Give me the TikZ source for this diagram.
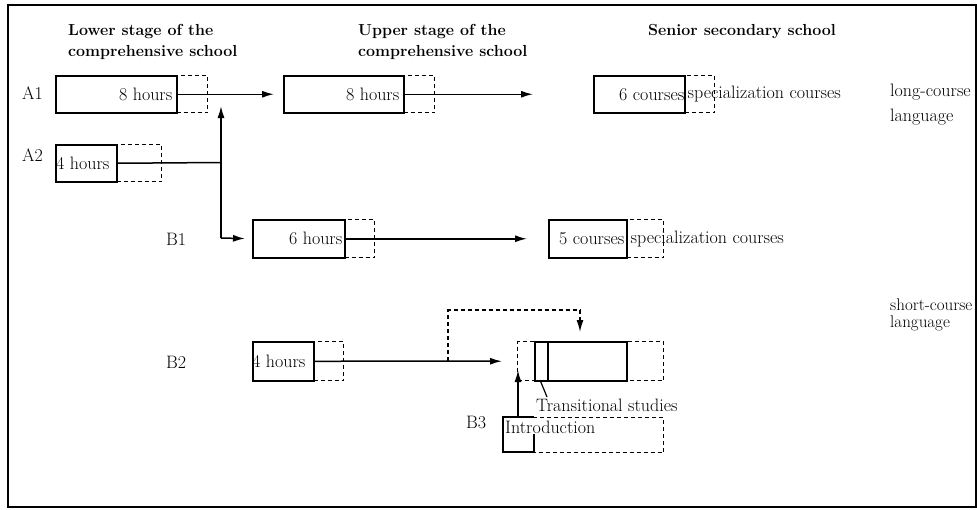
\documentclass[tikz,border=0pt]{standalone}
\usepackage{fontspec}
\usetikzlibrary{arrows.meta}
\begin{document}
\begin{tikzpicture}[x=1pt,y=-1pt,
  every node/.style={inner sep=0pt, font=\fontsize{18}{21}\selectfont},
  sbox/.style={draw, line width=1.5pt, rectangle, inner sep=0pt, anchor=north west},
  dbox/.style={draw, line width=1.4pt, dash pattern=on 4pt off 3pt, rectangle, inner sep=0pt, anchor=north west},
  arr/.style={line width=1.5pt, -{Latex[length=12pt,width=7pt]}},
  ln/.style={line width=1.5pt},
  dln/.style={line width=1.4pt, dash pattern=on 4pt off 3pt},
  head/.style={font=\fontsize{16}{21}\selectfont\bfseries, align=left, anchor=west},
  lbl/.style={anchor=west},
  small/.style={anchor=west, font=\fontsize{17}{20}\selectfont}
]
\useasboundingbox (0,0) rectangle (977,509);
\draw[line width=1.8pt] (8,5) rectangle (976,507);

% headings
\node[head] (h1) at (68,42) {Lower stage of the\\comprehensive school};
\node[head] (h2) at (358,42) {Upper stage of the\\comprehensive school};
\node[head] (h3) at (648,32) {Senior secondary school};

% row labels
\node[lbl] (la1) at (22,93.5) {A1};
\node[lbl] (la2) at (22,155) {A2};
\node[lbl] (lb1) at (166,239) {B1};
\node[lbl] (lb2) at (166,362) {B2};
\node[lbl] (lb3) at (466,422) {B3};

% right labels
\node[lbl] (lc1) at (890,92) {long-course};
\node[lbl] (lc2) at (890,117) {language};
\node[small] (sc1) at (890,305) {short-course};
\node[small] (sc2) at (890,323) {language};

% A1 lower
\node[dbox, minimum width=31pt, minimum height=37pt] (a1ld) at (176,75) {};
\node[sbox, minimum width=121pt, minimum height=37pt] (a1l) at (55,75) {};
\node[anchor=east] (ta1l) at ([xshift=-5pt]a1l.east) {8 hours};
% A1 upper
\node[dbox, minimum width=31pt, minimum height=37pt] (a1ud) at (403,75) {};
\node[sbox, minimum width=120pt, minimum height=37pt] (a1u) at (283,75) {};
\node[anchor=east] (ta1u) at ([xshift=-5pt]a1u.east) {8 hours};
% A1 senior
\node[dbox, minimum width=30pt, minimum height=37pt] (a1sd) at (684,75) {};
\node[sbox, minimum width=91pt, minimum height=37pt] (a1s) at (593,75) {};
\node[anchor=east] (ta1s) at ([xshift=-1pt]a1s.east) {6 courses};
\node[anchor=west] (ta1x) at ([xshift=2pt]a1s.east) {specialization courses};

\draw[arr, shorten >=9pt] (a1l.east) -- (a1u.west);
\draw[arr, shorten >=60pt] (a1u.east) -- (a1s.west);

% A2
\node[dbox, minimum width=45pt, minimum height=37pt] (a2d) at (116,144) {};
\node[sbox, minimum width=61pt, minimum height=37pt] (a2) at (55,144) {};
\node[anchor=west] (ta2) at ([xshift=1pt]a2.west) {4 hours};

% B1
\node[dbox, minimum width=30pt, minimum height=38pt] (b1d) at (344,219) {};
\node[sbox, minimum width=92pt, minimum height=38pt] (b1) at (252,219) {};
\node[anchor=east] (tb1) at ([xshift=-3pt]b1.east) {6 hours};
\node[dbox, minimum width=37pt, minimum height=38pt] (b1sd) at (626,219) {};
\node[sbox, minimum width=78pt, minimum height=38pt] (b1s) at (548,219) {};
\node[anchor=east] (tb1s) at ([xshift=-3pt]b1s.east) {5 courses};
\node[anchor=west] (tb1x) at ([xshift=3pt]b1s.east) {specialization courses};

\coordinate (j) at (221,162.5);
\coordinate (up) at (221,106);
\coordinate (cr) at (221,238);
\draw[ln] (a2.east) -- (j);
\draw[arr] (cr) -- (up);
\draw[arr, shorten >=7pt] (cr) -- (b1.west);
\draw[arr, shorten >=21pt] (b1.east) -- (b1s.west);

% B2
\node[dbox, minimum width=30pt, minimum height=39pt] (b2d) at (313,341) {};
\node[sbox, minimum width=61pt, minimum height=39pt] (b2) at (252,341) {};
\node[anchor=west] (tb2) at ([xshift=0pt]b2.west) {4 hours};

% target box
\node[dbox, minimum width=146pt, minimum height=39pt] (tgd) at (517,341) {};
\node[sbox, minimum width=92pt, minimum height=39pt] (tg) at (534,341) {};
\draw[ln] ([xshift=14pt]tg.north west) -- ([xshift=14pt]tg.south west);

\draw[arr, shorten >=15pt] (b2.east) -- (tgd.west);
\coordinate (br) at (448,360.5);
\coordinate (bt) at (580,310);
\coordinate (tgt) at (580,341);
\draw[dln] (br) |- (bt);
\draw[arr, dash pattern=on 4pt off 3pt, line width=1.4pt, shorten >=9pt] (bt) -- (tgt);

% transitional studies
\coordinate (ps) at (540,380);
\node[anchor=west] (ttr) at (536,405) {Transitional studies};
\draw[line width=1.2pt] (ps) -- (547,397);

% B3 introduction
\node[dbox, minimum width=160pt, minimum height=35pt] (intd) at (503,417) {};
\draw[ln] (534,417) -- (503,417) -- (503,452) -- (534,452) -- (534,434);
\node[anchor=west] (tin) at (505,427) {Introduction};
\coordinate (ia) at (518,417);
\coordinate (ib) at (518,370);
\draw[arr] (ia) -- (ib);
\end{tikzpicture}
\end{document}
